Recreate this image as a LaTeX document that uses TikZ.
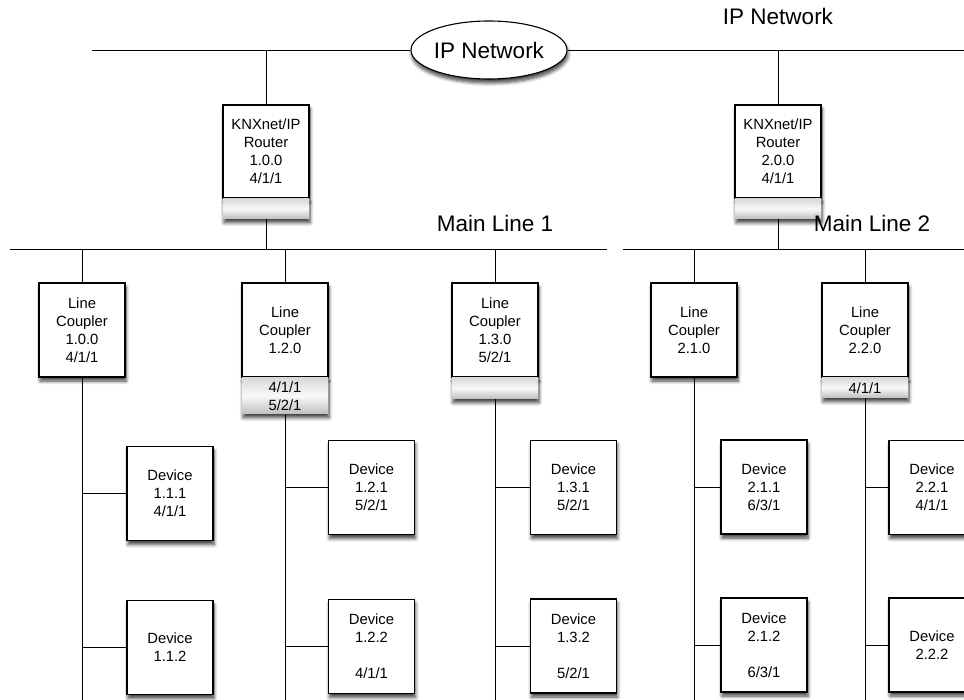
\documentclass[tikz,border=0pt]{standalone}
\usepackage{fontspec}
\setmainfont{Liberation Sans}
\usetikzlibrary{positioning,shapes.geometric,shadows.blur}
\tikzset{
  wire/.style={line width=0.9pt, draw=black},
  knxshadow/.style={blur shadow={shadow xshift=1pt, shadow yshift=-4pt,
                    shadow blur radius=3.5pt, shadow blur steps=6, shadow opacity=75}},
  knxbox/.style={draw, line width=1.1pt, fill=white, minimum width=86pt,
                 align=center, inner sep=2pt, knxshadow,
                 font=\fontsize{14.8}{18}\selectfont},
  routerbox/.style={knxbox, minimum height=93pt},
  couplerbox/.style={knxbox, minimum height=94pt},
  devicebox/.style={knxbox, minimum height=94pt},
  addrstrip/.style={minimum width=86pt, inner sep=0pt, align=center,
                    top color=gray!30, bottom color=gray!50, middle color=gray!5,
                    knxshadow, font=\fontsize{14.8}{18}\selectfont},
  ipcloud/.style={ellipse, draw, line width=1.1pt, fill=white, inner sep=0pt,
                  minimum width=156pt, minimum height=58pt, knxshadow,
                  font=\fontsize{22.5}{27}\selectfont},
  busname/.style={anchor=base, font=\fontsize{22.5}{27}\selectfont},
}
\begin{document}
\begin{tikzpicture}[x=1pt, y=-1pt]
  \useasboundingbox (0,0) rectangle (964,700);
  \clip (0,0) rectangle (964,700);

  % bus ends
  \coordinate (ipw) at (92,50);
  \coordinate (ipe) at (964,50);
  \coordinate (ml1w) at (10,249);
  \coordinate (ml1e) at (607,249);
  \coordinate (ml2w) at (623,249);
  \coordinate (ml2e) at (964,249);
  \coordinate (floor) at (0,700);

  % IP network
  \node[ipcloud] (ipnet) at (489,50) {IP Network};
  \node[busname] (iplabel) at (778,25) {IP Network};
  \draw[wire] (ipw) -- (ipnet.west);
  \draw[wire] (ipnet.east) -- (ipe);

  % routers
  \node[routerbox] (r1) at (266,151.5) {KNXnet/IP\\Router\\1.0.0\\4/1/1};
  \node[addrstrip, minimum height=20pt, below=0pt of r1] (r1s) {};
  \node[routerbox] (r2) at (778,151.5) {KNXnet/IP\\Router\\2.0.0\\4/1/1};
  \node[addrstrip, minimum height=20pt, below=0pt of r2] (r2s) {};
  \draw[wire] (r1.north |- ipw) -- (r1.north);
  \draw[wire] (r2.north |- ipw) -- (r2.north);

  % main lines
  \draw[wire] (ml1w) -- (ml1e);
  \draw[wire] (ml2w) -- (ml2e);
  \node[busname] (ml1label) at (495,232) {Main Line 1};
  \node[busname] (ml2label) at (872,232) {Main Line 2};
  \draw[wire] (r1s.south) -- (r1s.south |- ml1w);
  \draw[wire] (r2s.south) -- (r2s.south |- ml2w);

  % line couplers
  \node[couplerbox] (lc10) at (82,330) {Line\\Coupler\\1.0.0\\4/1/1};
  \node[couplerbox] (lc12) at (285,330) {Line\\Coupler\\1.2.0};
  \node[addrstrip, minimum height=36pt, below=0pt of lc12] (lc12s) {4/1/1\\5/2/1};
  \node[couplerbox] (lc13) at (495,330) {Line\\Coupler\\1.3.0\\5/2/1};
  \node[addrstrip, minimum height=21pt, below=0pt of lc13] (lc13s) {};
  \node[couplerbox] (lc21) at (694,330) {Line\\Coupler\\2.1.0};
  \node[couplerbox] (lc22) at (865,330) {Line\\Coupler\\2.2.0};
  \node[addrstrip, minimum height=20pt, below=0pt of lc22] (lc22s) {4/1/1};

  \draw[wire] (lc10.north |- ml1w) -- (lc10.north);
  \draw[wire] (lc12.north |- ml1w) -- (lc12.north);
  \draw[wire] (lc13.north |- ml1w) -- (lc13.north);
  \draw[wire] (lc21.north |- ml2w) -- (lc21.north);
  \draw[wire] (lc22.north |- ml2w) -- (lc22.north);

  \draw[wire] (lc10.south) -- (lc10.south |- floor);
  \draw[wire] (lc12s.south) -- (lc12s.south |- floor);
  \draw[wire] (lc13s.south) -- (lc13s.south |- floor);
  \draw[wire] (lc21.south) -- (lc21.south |- floor);
  \draw[wire] (lc22s.south) -- (lc22s.south |- floor);

  % devices
  \node[devicebox] (dev111) at (170,493.5) {Device\\1.1.1\\4/1/1};
  \node[devicebox] (dev112) at (170,647.5) {Device\\1.1.2};
  \node[devicebox] (dev121) at (371.5,487.5) {Device\\1.2.1\\5/2/1};
  \node[devicebox] (dev122) at (371.5,646.5) {Device\\1.2.2\\~\\4/1/1};
  \node[devicebox] (dev131) at (573.5,487.5) {Device\\1.3.1\\5/2/1};
  \node[devicebox] (dev132) at (573.5,646) {Device\\1.3.2\\~\\5/2/1};
  \node[devicebox] (dev211) at (764,487) {Device\\2.1.1\\6/3/1};
  \node[devicebox] (dev212) at (764,645) {Device\\2.1.2\\~\\6/3/1};
  \node[devicebox] (dev221) at (932,487.5) {Device\\2.2.1\\4/1/1};
  \node[devicebox] (dev222) at (932,645) {Device\\2.2.2};

  \draw[wire] (lc10.south |- dev111.west) -- (dev111.west);
  \draw[wire] (lc10.south |- dev112.west) -- (dev112.west);
  \draw[wire] (lc12.south |- dev121.west) -- (dev121.west);
  \draw[wire] (lc12.south |- dev122.west) -- (dev122.west);
  \draw[wire] (lc13.south |- dev131.west) -- (dev131.west);
  \draw[wire] (lc13.south |- dev132.west) -- (dev132.west);
  \draw[wire] (lc21.south |- dev211.west) -- (dev211.west);
  \draw[wire] (lc21.south |- dev212.west) -- (dev212.west);
  \draw[wire] (lc22.south |- dev221.west) -- (dev221.west);
  \draw[wire] (lc22.south |- dev222.west) -- (dev222.west);
\end{tikzpicture}
\end{document}
